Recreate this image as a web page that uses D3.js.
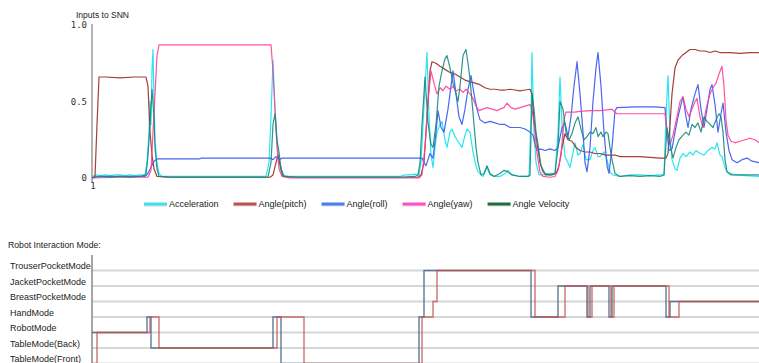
<!DOCTYPE html>
<html>
<head>
<meta charset="utf-8">
<script src="https://cdn.jsdelivr.net/npm/d3@7"></script>
<style>
  body { margin: 0; background: #fff; }
  svg { display: block; font-family: "Liberation Sans", Arial, sans-serif; }
</style>
</head>
<body>
<div id="svg-container"></div>
<script>
////////////////////////////////////////////////////////////////////
////////////////////////////  Data  ////////////////////////////////
// [sample, value]
const acceleration = [[1,0.01],[5,0.02],[9,0.015],[14,0.02],[19,0.015],[24,0.02],[29,0.02],[34,0.015],[39,0.02],[44,0.015],[49,0.02],[54,0.02],[56,0.1],[58,0.3],[59,0.5],[60,0.35],[61,0.7],[62,0.84],[63,0.5],[64,0.25],[66,0.1],[68,0.03],[71,0.01],[79,0.01],[109,0.01],[149,0.01],[175,0.01],[178,0.1],[180,0.4],[182,0.77],[184,0.45],[186,0.25],[188,0.1],[191,0.02],[199,0.01],[259,0.01],[309,0.01],[314,0.02],[319,0.02],[324,0.025],[328,0.02],[330,0.1],[332,0.35],[334,0.6],[336,0.82],[338,0.4],[340,0.15],[342,0.07],[344,0.2],[346,0.3],[349,0.35],[351,0.37],[354,0.25],[356,0.2],[359,0.3],[361,0.32],[364,0.27],[366,0.25],[369,0.22],[371,0.2],[374,0.28],[376,0.32],[379,0.3],[382,0.17],[385,0.08],[387,0.04],[392,0.01],[396,0.07],[399,0.02],[404,0.01],[409,0.01],[414,0.03],[417,0.05],[421,0.02],[429,0.01],[438,0.01],[440,0.4],[441,0.82],[443,0.3],[445,0.1],[448,0.02],[454,0.02],[459,0.03],[464,0.03],[467,0.3],[469,0.66],[471,0.35],[474,0.14],[479,0.07],[484,0.23],[487,0.15],[489,0.16],[492,0.22],[495,0.12],[499,0.12],[502,0.18],[504,0.2],[507,0.14],[509,0.14],[513,0.17],[516,0.12],[519,0.04],[522,0.02],[529,0.01],[539,0.02],[549,0.02],[559,0.015],[569,0.02],[573,0.02],[575,0.4],[577,0.67],[579,0.28],[581,0.12],[584,0.06],[586,0.05],[589,0.13],[592,0.16],[595,0.14],[599,0.17],[602,0.15],[605,0.18],[609,0.16],[613,0.15],[617,0.18],[621,0.2],[624,0.19],[626,0.23],[629,0.15],[631,0.14],[634,0.07],[636,0.04],[644,0.02],[654,0.015],[668,0.01]];

const anglePitch = [[1,0],[4,0.01],[6,0.35],[8,0.66],[14,0.66],[29,0.655],[44,0.66],[55,0.66],[57,0.6],[59,0.3],[61,0.15],[63,0.06],[66,0.01],[79,0.005],[179,0.005],[182,0.02],[185,0.1],[187,0.15],[189,0.09],[192,0.01],[199,0.005],[327,0.005],[330,0.02],[333,0.1],[336,0.4],[339,0.7],[341,0.76],[345,0.75],[349,0.73],[354,0.71],[359,0.69],[364,0.68],[369,0.66],[374,0.64],[379,0.63],[384,0.62],[389,0.61],[394,0.59],[399,0.58],[404,0.58],[409,0.575],[414,0.575],[419,0.58],[424,0.575],[429,0.57],[434,0.575],[439,0.58],[441,0.55],[443,0.38],[446,0.23],[449,0.1],[452,0.04],[455,0.02],[461,0.02],[465,0.03],[468,0.08],[471,0.2],[474,0.29],[477,0.25],[481,0.24],[485,0.2],[489,0.18],[494,0.17],[499,0.17],[504,0.16],[509,0.16],[514,0.15],[519,0.15],[524,0.15],[529,0.14],[539,0.14],[549,0.14],[559,0.135],[569,0.13],[575,0.13],[577,0.16],[579,0.35],[581,0.55],[584,0.72],[587,0.77],[591,0.8],[595,0.82],[599,0.84],[604,0.84],[609,0.83],[614,0.83],[619,0.82],[624,0.83],[629,0.82],[639,0.82],[649,0.815],[659,0.82],[668,0.82]];

const angleRoll = [[1,0],[9,0.01],[29,0.01],[54,0.01],[57,0.03],[60,0.07],[63,0.11],[66,0.125],[109,0.125],[110,0.13],[179,0.13],[182,0.12],[185,0.14],[188,0.12],[191,0.13],[331,0.13],[333,0.1],[335,0.08],[337,0.12],[339,0.16],[342,0.13],[345,0.3],[347,0.44],[350,0.33],[353,0.3],[357,0.45],[360,0.6],[362,0.7],[365,0.55],[368,0.4],[371,0.35],[374,0.45],[377,0.58],[380,0.67],[383,0.55],[386,0.45],[389,0.38],[394,0.36],[399,0.37],[404,0.36],[409,0.35],[414,0.35],[419,0.33],[424,0.33],[429,0.33],[434,0.32],[439,0.3],[442,0.28],[444,0.22],[446,0.18],[449,0.19],[454,0.18],[459,0.19],[464,0.18],[467,0.2],[471,0.33],[474,0.36],[477,0.27],[480,0.4],[483,0.6],[486,0.76],[489,0.55],[492,0.3],[494,0.1],[496,0.04],[499,0.2],[502,0.5],[505,0.72],[507,0.82],[510,0.6],[513,0.3],[516,0.08],[518,0.03],[521,0.2],[524,0.44],[526,0.46],[544,0.465],[564,0.465],[574,0.46],[576,0.3],[578,0.18],[581,0.19],[584,0.3],[587,0.4],[590,0.48],[592,0.53],[595,0.4],[597,0.33],[600,0.45],[604,0.55],[607,0.61],[610,0.45],[613,0.33],[616,0.45],[619,0.58],[621,0.61],[624,0.48],[627,0.3],[630,0.42],[632,0.49],[635,0.3],[638,0.18],[641,0.12],[646,0.1],[651,0.12],[656,0.13],[661,0.11],[668,0.1]];

const angleYaw = [[1,0],[29,0.005],[57,0.005],[60,0.05],[62,0.3],[64,0.55],[66,0.8],[68,0.87],[180,0.87],[182,0.7],[184,0.45],[186,0.2],[188,0.06],[191,0.01],[199,0],[328,0],[331,0.02],[334,0.2],[337,0.5],[340,0.7],[343,0.62],[346,0.55],[349,0.59],[352,0.57],[355,0.6],[359,0.58],[362,0.6],[365,0.57],[369,0.58],[372,0.56],[375,0.58],[379,0.55],[382,0.52],[385,0.47],[388,0.44],[392,0.45],[396,0.46],[401,0.45],[406,0.44],[409,0.45],[413,0.46],[416,0.49],[420,0.46],[424,0.45],[429,0.46],[434,0.47],[439,0.48],[441,0.45],[444,0.3],[446,0.16],[449,0.04],[452,0.01],[459,0.005],[464,0.01],[467,0.05],[470,0.15],[473,0.38],[475,0.43],[484,0.43],[489,0.435],[499,0.44],[509,0.44],[516,0.445],[521,0.45],[524,0.43],[526,0.42],[549,0.42],[574,0.42],[576,0.3],[579,0.22],[582,0.28],[586,0.4],[589,0.5],[592,0.53],[595,0.45],[598,0.4],[601,0.45],[604,0.5],[606,0.52],[609,0.4],[612,0.33],[615,0.45],[619,0.55],[622,0.59],[625,0.62],[628,0.68],[631,0.73],[633,0.6],[635,0.38],[637,0.28],[640,0.24],[644,0.23],[649,0.24],[654,0.25],[659,0.26],[664,0.25],[668,0.23]];

const angleVelocity = [[1,0.005],[9,0.01],[19,0.005],[29,0.01],[39,0.005],[49,0.01],[55,0.02],[57,0.15],[59,0.35],[61,0.58],[63,0.4],[64,0.2],[66,0.06],[68,0.01],[79,0.005],[177,0.005],[180,0.1],[182,0.35],[184,0.42],[186,0.25],[188,0.17],[190,0.06],[193,0.01],[209,0.005],[309,0.005],[324,0.01],[327,0.02],[329,0.1],[331,0.35],[334,0.66],[337,0.36],[340,0.22],[342,0.2],[345,0.35],[348,0.6],[351,0.7],[354,0.78],[356,0.8],[359,0.72],[362,0.62],[365,0.55],[367,0.5],[369,0.6],[372,0.8],[375,0.84],[377,0.75],[379,0.65],[381,0.5],[383,0.35],[385,0.2],[387,0.1],[390,0.02],[393,0.03],[396,0.08],[399,0.03],[403,0.01],[409,0.03],[413,0.05],[417,0.04],[421,0.02],[429,0.01],[437,0.01],[439,0.02],[441,0.55],[443,0.45],[445,0.3],[447,0.22],[450,0.08],[454,0.03],[459,0.02],[464,0.03],[467,0.2],[469,0.5],[472,0.45],[475,0.3],[478,0.25],[481,0.29],[484,0.36],[487,0.4],[490,0.32],[493,0.25],[496,0.27],[499,0.3],[502,0.29],[505,0.33],[507,0.27],[510,0.3],[512,0.27],[515,0.3],[517,0.29],[519,0.2],[521,0.12],[524,0.03],[529,0.01],[539,0.015],[549,0.01],[559,0.015],[569,0.01],[573,0.02],[576,0.33],[579,0.22],[582,0.13],[585,0.2],[588,0.25],[592,0.28],[595,0.3],[598,0.28],[601,0.35],[604,0.33],[607,0.36],[610,0.3],[613,0.4],[616,0.37],[619,0.35],[622,0.33],[625,0.38],[628,0.42],[630,0.4],[632,0.3],[634,0.12],[636,0.04],[640,0.02],[668,0.02]];

const seriesNames = ["Acceleration", "Angle(pitch)", "Angle(roll)", "Angle(yaw)", "Angle Velocity"];
const seriesData = [acceleration, anglePitch, angleRoll, angleYaw, angleVelocity];
const lineColors = ["#12e2ee", "#9b2a22", "#3556f0", "#ff3f96", "#168a7e"];
const legendColors = ["#44def2", "#c0504d", "#4a7cf2", "#ff50c8", "#1e6e3c"];

const yTicks = [0, 0.5, 1];
const yTickLabels = ["0", "0.5", "1.0"];

// robot interaction mode (level index from bottom), [sample, level]
const modeLabels = ["TableMode(Front)", "TableMode(Back)", "RobotMode", "HandMode", "BreastPocketMode", "JacketPocketMode", "TrouserPocketMode"];
const modeActual = [[1,2],[56,3],[60,1],[182,3],[190,0],[328,3],[333,6],[440,3],[467,5],[496,3],[499,5],[518,3],[521,5],[575,3],[579,4],[668,4]];
const modePredicted = [[1,0],[6,2],[59,3],[68,1],[186,3],[213,0],[331,3],[342,4],[346,6],[444,3],[474,5],[497,3],[501,5],[520,3],[523,5],[578,3],[588,4],[668,4]];

////////////////////////////////////////////////////////////////////
////////////////////////////  Init  ////////////////////////////////
const width = 759;
const height = 363;
const svg = d3.select("#svg-container").append("svg")
  .attr("width", width).attr("height", height);

const xScale = d3.scaleLinear().domain([1, 668]).range([92, 759]);
const yScale = d3.scaleLinear().domain([0, 1]).range([178, 25]);
const modeScale = d3.scaleLinear().domain([0, 7]).range([363.5, 255]);

////////////////////////////////////////////////////////////////////
////////////////////////////  Top chart  ///////////////////////////
svg.append("text")
  .attr("x", 76).attr("y", 18)
  .attr("font-size", 8.5).attr("fill", "#222")
  .text("Inputs to SNN");

const yAxis = d3.axisLeft(yScale)
  .tickValues(yTicks)
  .tickFormat((d, i) => yTickLabels[i])
  .tickSize(0)
  .tickPadding(5);

svg.append("g")
  .attr("class", "y-axis")
  .attr("transform", `translate(${xScale(1)},0)`)
  .call(yAxis)
  .call((g) => g.select(".domain").remove())
  .call((g) => g.selectAll("text").attr("font-size", 9).attr("fill", "#333").style("font-family", "'DejaVu Sans Mono', monospace"));

svg.append("line")
  .attr("x1", xScale(1)).attr("x2", xScale(1))
  .attr("y1", yScale(1) - 1).attr("y2", yScale(0) + 4)
  .attr("stroke", "#9a9a9a").attr("stroke-width", 1.5);

svg.append("text")
  .attr("x", xScale(1) + 1).attr("y", yScale(0) + 11)
  .attr("text-anchor", "middle")
  .attr("font-size", 9).attr("fill", "#333")
  .style("font-family", "'DejaVu Sans Mono', monospace")
  .text("1");

const line = d3.line()
  .x((d) => xScale(d[0]))
  .y((d) => yScale(d[1]));

seriesData.forEach((s, i) => {
  svg.append("path")
    .datum(s)
    .attr("fill", "none")
    .attr("stroke", lineColors[i])
    .attr("stroke-width", 1.2)
    .attr("stroke-linejoin", "round")
    .style("opacity", 0.9)
    .attr("d", line);
});

// legend
const legend = svg.append("g").attr("class", "legend");
let lx = 144;
seriesNames.forEach((name, i) => {
  legend.append("line")
    .attr("x1", lx).attr("x2", lx + 23)
    .attr("y1", 205).attr("y2", 205)
    .attr("stroke", "#bbb").attr("stroke-width", 3).style("opacity", 0.5);
  legend.append("line")
    .attr("x1", lx).attr("x2", lx + 23)
    .attr("y1", 204).attr("y2", 204)
    .attr("stroke", legendColors[i]).attr("stroke-width", 3);
  const t = legend.append("text")
    .attr("x", lx + 25).attr("y", 207)
    .attr("font-size", 9).attr("fill", "#222")
    .text(name);
  lx += 25 + t.node().getComputedTextLength() + 15;
});

////////////////////////////////////////////////////////////////////
////////////////////////////  Mode chart  //////////////////////////
svg.append("text")
  .attr("x", 8).attr("y", 248)
  .attr("font-size", 8.7).attr("fill", "#222")
  .text("Robot Interaction Mode:");

const levels = d3.range(modeLabels.length);

svg.append("g")
  .attr("class", "grid")
  .selectAll("line")
  .data(levels)
  .join("line")
  .attr("x1", xScale(1)).attr("x2", width)
  .attr("y1", (d) => modeScale(d)).attr("y2", (d) => modeScale(d))
  .attr("stroke", "#d6d6d6").attr("stroke-width", 2);

svg.append("g")
  .selectAll("text")
  .data(levels)
  .join("text")
  .attr("x", 10)
  .attr("y", (d) => modeScale(d) - 1.5)
  .attr("font-size", 9).attr("fill", "#222")
  .text((d) => modeLabels[d]);

svg.append("line")
  .attr("x1", xScale(1)).attr("x2", xScale(1))
  .attr("y1", modeScale(7)).attr("y2", height)
  .attr("stroke", "#888").attr("stroke-width", 1.5);

const stepLine = d3.line()
  .curve(d3.curveStepAfter)
  .x((d) => xScale(d[0]))
  .y((d) => modeScale(d[1]));

svg.append("path")
  .datum(modeActual)
  .attr("fill", "none")
  .attr("stroke", "#4f6b8a")
  .attr("stroke-width", 1.4)
  .style("opacity", 0.9)
  .attr("d", stepLine);

svg.append("path")
  .datum(modePredicted)
  .attr("fill", "none")
  .attr("stroke", "#c0504d")
  .attr("stroke-width", 1.4)
  .style("opacity", 0.8)
  .attr("d", stepLine);
</script>
</body>
</html>
